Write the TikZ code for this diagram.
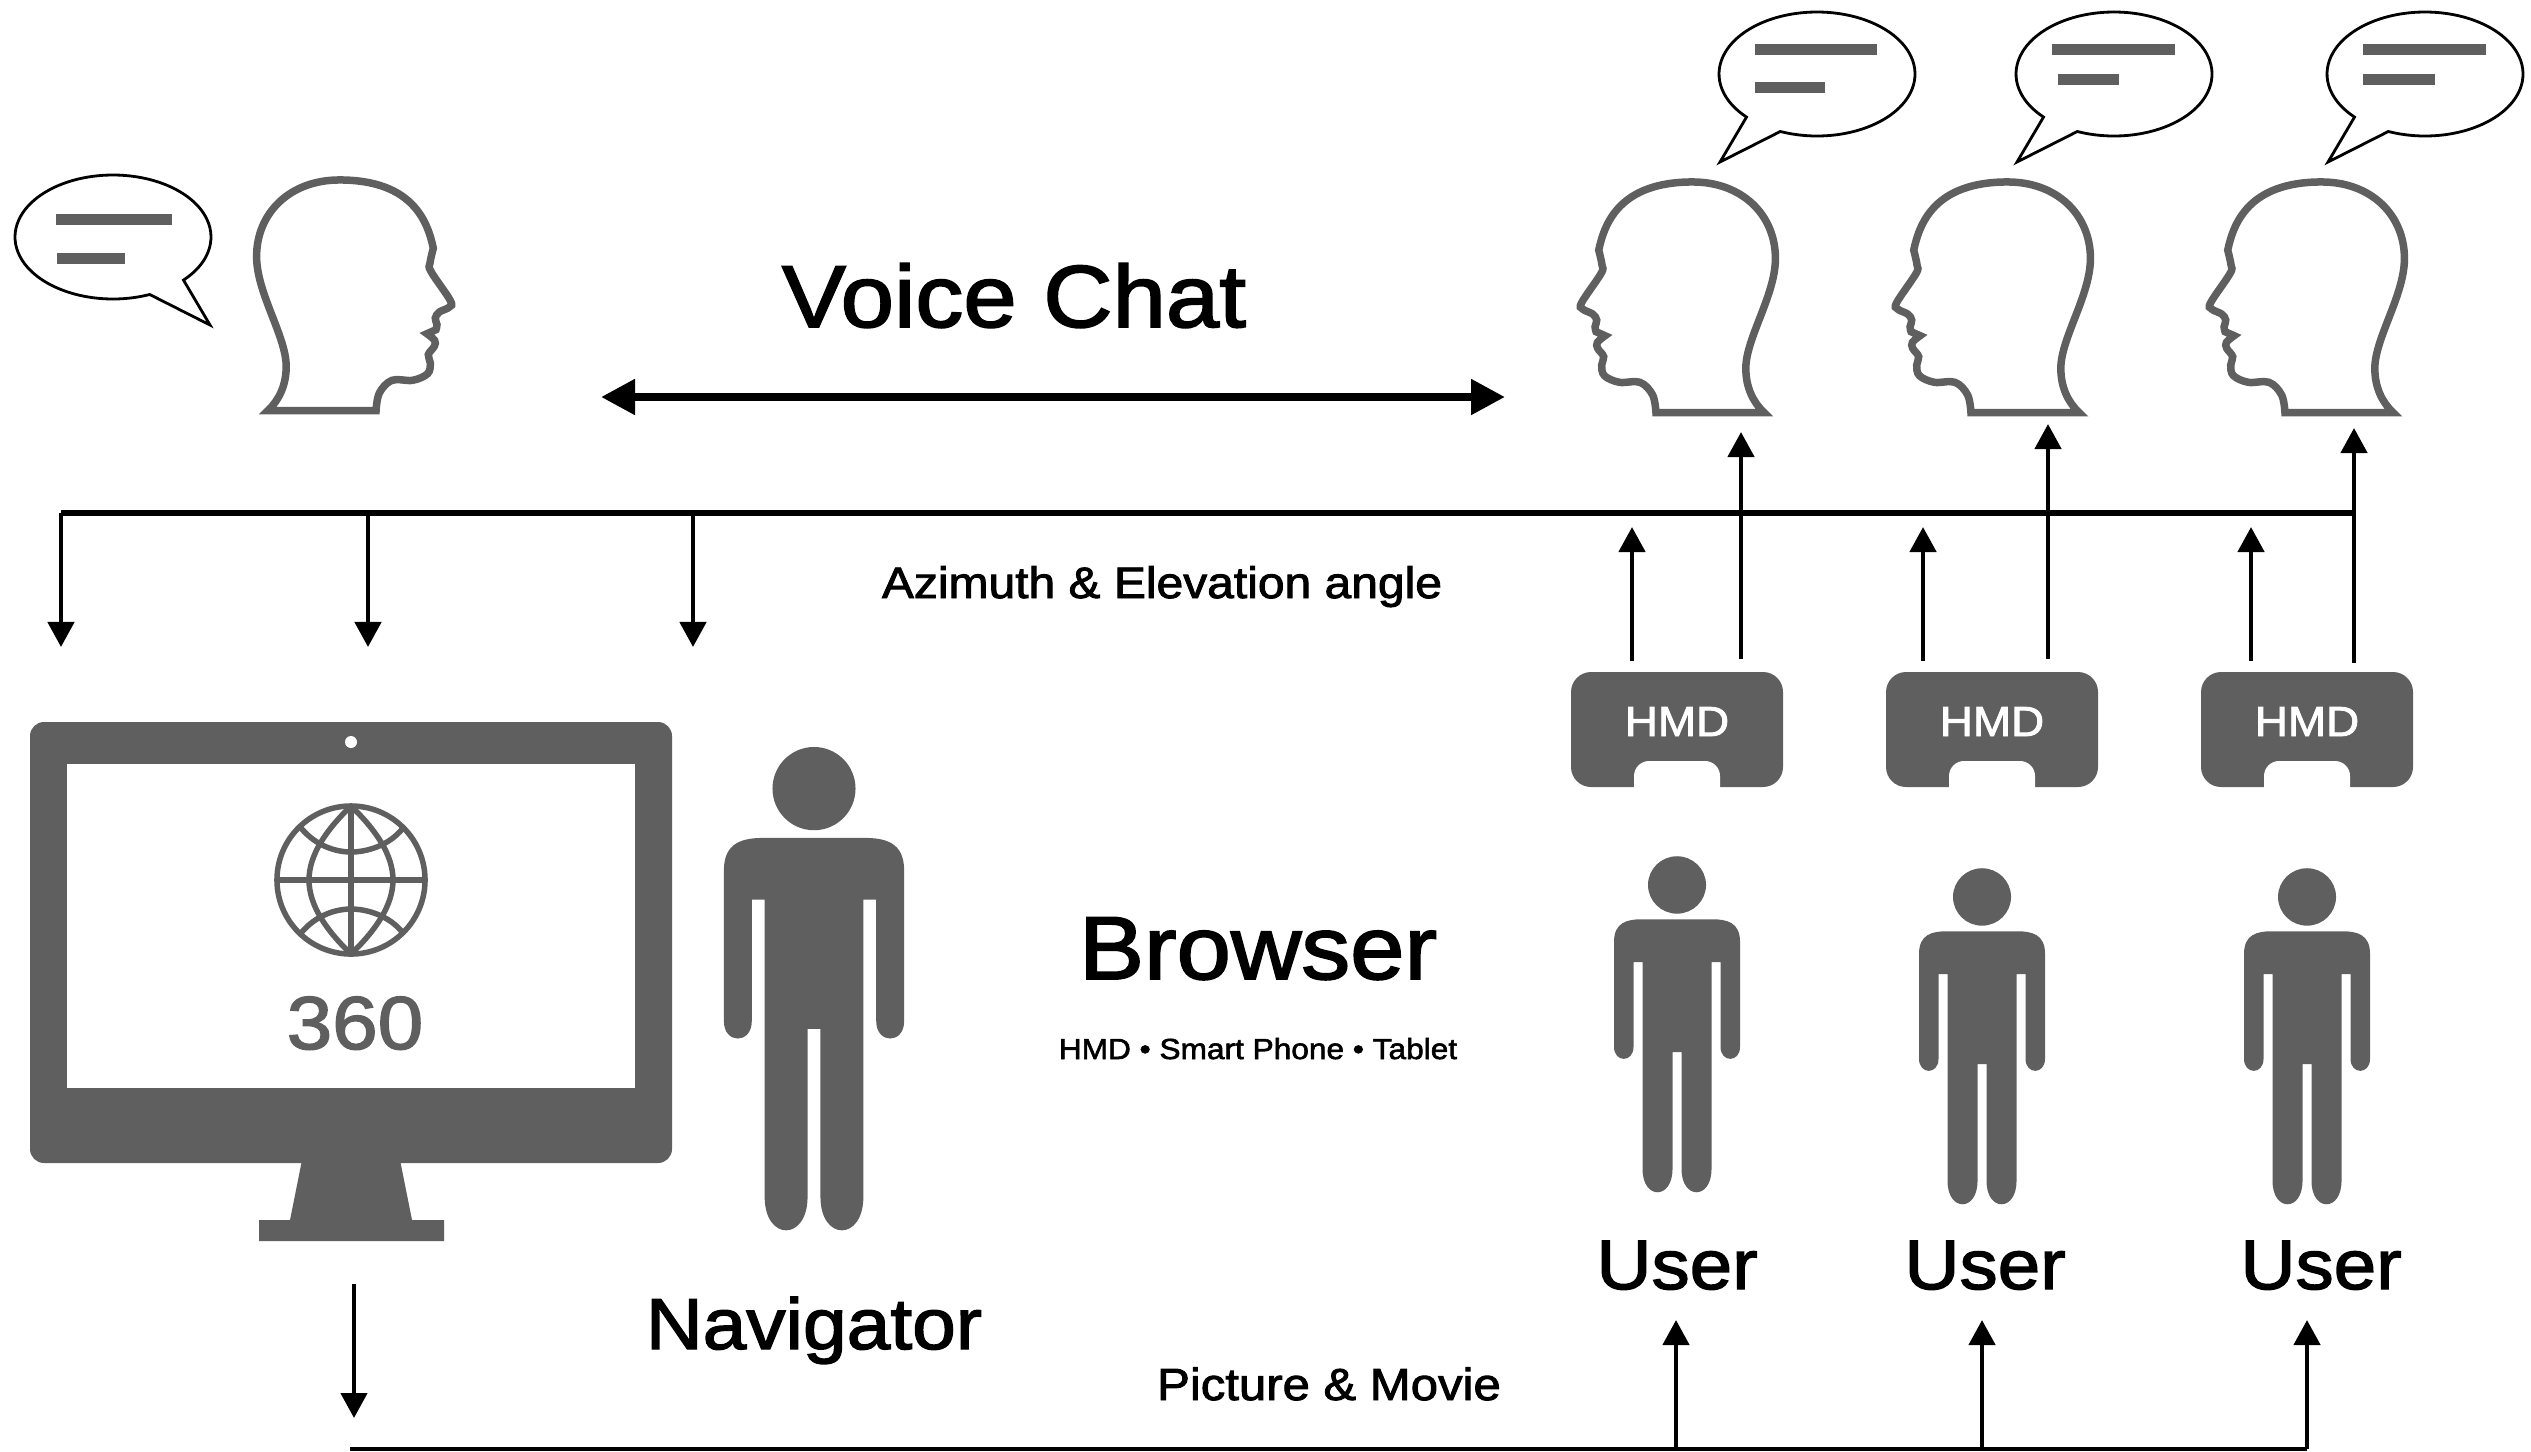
\documentclass[tikz,border=0pt]{standalone}
\usepackage{fontspec}
\setmainfont{Liberation Sans}[FakeStretch=1.09,FakeBold=2]
\usetikzlibrary{arrows.meta}
\definecolor{gr}{HTML}{5F5F5F}
\newcommand\pxf[1]{\fontsize{\fpeval{round(#1*0.28453,3)}pt}{\fpeval{round(#1*0.34,3)}pt}\selectfont}
\tikzset{
  lbl/.style={anchor=base,inner sep=0pt,outer sep=0pt,text=black},
  arr/.style={line width=.045cm,-{Triangle[length=.25cm,width=.26cm]}},
  busline/.style={line width=.055cm},
  thinbus/.style={line width=.035cm},
  bigarr/.style={line width=.08cm,{Triangle[length=.34cm,width=.34cm]}-{Triangle[length=.34cm,width=.34cm]}},
  headline/.style={draw=gr,line width=.075cm,line join=miter,miter limit=10},
  bubline/.style={draw=black,line width=.028cm,fill=white,line join=miter},
  bar/.style={fill=gr},
  solid/.style={fill=gr}
}
\newcommand\headshape{
  \draw[headline] plot[smooth,tension=.6] coordinates {(1130,783) (1140,730) (1178,692) (1240,692) (1285,672) (1293,640) (1287,615) (1305,590) (1306,572) (1283,552)}
  -- plot[smooth,tension=.6] coordinates {(1310,540) (1313,525) (1308,505) (1320,487) (1350,472) (1353,452) (1295,365) (1292,340) (1302,295)}
  .. controls (1285,215) and (1240,90) .. (1020,90)
  .. controls (870,90) and (771,190) .. (771,320)
  .. controls (771,430) and (860,560) .. (860,650)
  .. controls (860,705) and (840,750) .. (805,783)
  -- cycle;
}
\newcommand\bubbleshape{
  \draw[bubline] plot[domain=-224:112,samples=90,smooth] ({98*cos(\x)},{62*sin(\x)}) -- (-97,88) -- cycle;
}
\newcommand\bodyshape{
  \fill[solid] (-63,80) .. controls (-63,62) and (-50,59) .. (-35,59) -- (35,59)
    .. controls (50,59) and (63,62) .. (63,80) -- (63,178)
    .. controls (63,193) and (43.5,193) .. (43.5,178) -- (43.5,99) -- (34.5,99) -- (34.5,292)
    .. controls (34.5,321) and (4.5,321) .. (4.5,292) -- (4.5,183) -- (-4.5,183) -- (-4.5,292)
    .. controls (-4.5,321) and (-34.5,321) .. (-34.5,292) -- (-34.5,99) -- (-43.5,99) -- (-43.5,178)
    .. controls (-43.5,193) and (-63,193) .. (-63,178) -- cycle;
}
\newcommand\hmdshape[1]{
  \fill[solid,rounded corners=.2cm] (-106,0) rectangle (106,115);
  \fill[white,rounded corners=.15cm] (-43,135) -- (-43,89) -- (43,89) -- (43,135) -- cycle;
  \node[lbl,text=white] (#1) at (0,64) {\pxf{42}HMD};
}
\begin{document}
\begin{tikzpicture}[x=.01cm,y=-.01cm]
\useasboundingbox (0,0) rectangle (2531,1451);

% heads
\begin{scope}[shift={(0,150)},x=.003333cm,y=-.003333cm] \headshape \end{scope}
\begin{scope}[shift={(2032,152)},x=-.003333cm,y=-.003333cm] \headshape \end{scope}
\begin{scope}[shift={(2347,152)},x=-.003333cm,y=-.003333cm] \headshape \end{scope}
\begin{scope}[shift={(2661,152)},x=-.003333cm,y=-.003333cm] \headshape \end{scope}

% bubbles
\begin{scope}[shift={(113,237)},x=-.01cm] \bubbleshape \end{scope}
\fill[bar] (56,214) rectangle (172,225);
\fill[bar] (57,253) rectangle (125,264);
\begin{scope}[shift={(1817,74)}] \bubbleshape \end{scope}
\fill[bar] (1755,44) rectangle (1877,55);
\fill[bar] (1755,82) rectangle (1825,93);
\begin{scope}[shift={(2114,74)}] \bubbleshape \end{scope}
\fill[bar] (2052,44) rectangle (2175,55);
\fill[bar] (2058,74) rectangle (2119,85);
\begin{scope}[shift={(2425,74)}] \bubbleshape \end{scope}
\fill[bar] (2363,44) rectangle (2486,55);
\fill[bar] (2363,74) rectangle (2435,85);

% monitor
\fill[solid,rounded corners=.14cm] (30,722) rectangle (672,1163);
\fill[solid] (302,1160) -- (400,1160) -- (412,1220) -- (444,1220) -- (444,1241) -- (259,1241) -- (259,1220) -- (290,1220) -- cycle;
\fill[white] (67,764) rectangle (635,1088);
\fill[white] (351,742) circle [radius=.06cm];
% globe
\begin{scope}[draw=gr,line width=.055cm]
\draw (351,880) circle [radius=.74cm];
\draw (351,806) -- (351,954);
\draw (277,880) -- (425,880);
\draw (351,806) .. controls (326,830) and (309,855) .. (309,880) .. controls (309,905) and (326,930) .. (351,954);
\draw (351,806) .. controls (376,830) and (393,855) .. (393,880) .. controls (393,905) and (376,930) .. (351,954);
\draw (301,828) .. controls (316,846) and (336,852) .. (351,852) .. controls (366,852) and (389,846) .. (403,828);
\draw (301,933) .. controls (316,915) and (336,909) .. (351,909) .. controls (366,909) and (389,915) .. (403,933);
\end{scope}
\node[lbl,text=gr] (n360) at (355,1049) {\pxf{75}360};

% persons
\begin{scope}[shift={(814,747)},x=.0143cm,y=-.0154cm]
  \fill[solid] (0,27) ellipse [x radius=.415cm,y radius=.416cm];
  \bodyshape
\end{scope}
\begin{scope}[shift={(1677,856)},y=-.010714cm]
  \fill[solid] (0,27) ellipse [x radius=.29cm,y radius=.287cm];
  \bodyshape
\end{scope}
\begin{scope}[shift={(1982,868)},y=-.010714cm]
  \fill[solid] (0,27) ellipse [x radius=.29cm,y radius=.287cm];
  \bodyshape
\end{scope}
\begin{scope}[shift={(2307,868)},y=-.010714cm]
  \fill[solid] (0,27) ellipse [x radius=.29cm,y radius=.287cm];
  \bodyshape
\end{scope}

% HMDs
\begin{scope}[shift={(1677,672)}] \hmdshape{hmdA} \end{scope}
\begin{scope}[shift={(1992,672)}] \hmdshape{hmdB} \end{scope}
\begin{scope}[shift={(2307,672)}] \hmdshape{hmdC} \end{scope}

% labels
\node[lbl] (voice) at (1014,327) {\pxf{88}Voice Chat};
\node[lbl] (azimuth) at (1162,598) {\pxf{44}Azimuth \& Elevation angle};
\node[lbl] (browser) at (1258,979) {\pxf{89.5}Browser};
\node[lbl] (devices) at (1258,1059) {\pxf{29}HMD • Smart Phone • Tablet};
\node[lbl] (navigator) at (814,1349) {\pxf{72}Navigator};
\node[lbl] (userA) at (1677,1289) {\pxf{70}User};
\node[lbl] (userB) at (1985,1289) {\pxf{70}User};
\node[lbl] (userC) at (2321,1289) {\pxf{70}User};
\node[lbl] (picture) at (1329,1400) {\pxf{45}Picture \& Movie};

% coordinates for connectors
\coordinate (vl) at (601,397);
\coordinate (vr) at (1505,397);
\coordinate (busL) at (61,513);
\coordinate (busR) at (2354,513);
\coordinate (d1) at (61,513);   \coordinate (d1e) at (61,647);
\coordinate (d2) at (368,513);  \coordinate (d2e) at (368,647);
\coordinate (d3) at (693,513);  \coordinate (d3e) at (693,647);
\coordinate (a1) at (1632,661); \coordinate (a1e) at (1632,527);
\coordinate (b1) at (1741,659); \coordinate (b1e) at (1741,432);
\coordinate (a2) at (1923,661); \coordinate (a2e) at (1923,527);
\coordinate (b2) at (2048,659); \coordinate (b2e) at (2048,424);
\coordinate (a3) at (2251,661); \coordinate (a3e) at (2251,527);
\coordinate (b3) at (2354,663); \coordinate (b3e) at (2354,428);
\coordinate (mon) at (354,1284); \coordinate (mone) at (354,1418);
\coordinate (botL) at (350,1449); \coordinate (botR) at (2307,1449);
\coordinate (u1) at (1676,1449); \coordinate (u1e) at (1676,1320);
\coordinate (u2) at (1982,1449); \coordinate (u2e) at (1982,1320);
\coordinate (u3) at (2307,1449); \coordinate (u3e) at (2307,1320);

% connectors
\draw[bigarr] (vl) -- (vr);
\draw[busline] (busL) -- (busR);
\draw[arr] (d1) -- (d1e);
\draw[arr] (d2) -- (d2e);
\draw[arr] (d3) -- (d3e);
\draw[arr] (a1) -- (a1e);
\draw[arr] (b1) -- (b1e);
\draw[arr] (a2) -- (a2e);
\draw[arr] (b2) -- (b2e);
\draw[arr] (a3) -- (a3e);
\draw[arr] (b3) -- (b3e);
\draw[arr] (mon) -- (mone);
\draw[thinbus] (botL) -- (botR);
\draw[arr] (u1) -- (u1e);
\draw[arr] (u2) -- (u2e);
\draw[arr] (u3) -- (u3e);
\end{tikzpicture}
\end{document}
